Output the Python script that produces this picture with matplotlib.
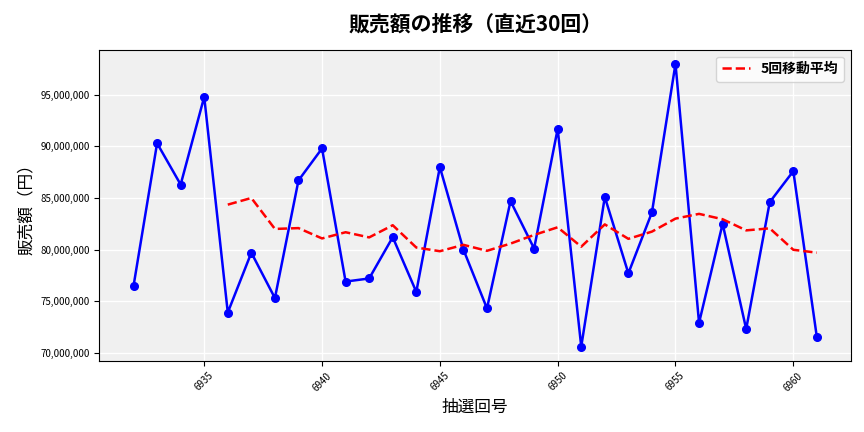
import matplotlib
matplotlib.use("Agg")
import matplotlib.pyplot as plt
import pandas as pd
from matplotlib.ticker import FuncFormatter

plt.rcParams['font.family'] = ['Noto Sans CJK JP', 'DejaVu Sans']

rounds = list(range(6932, 6962))
sales = [76.47, 90.3, 86.3, 94.8, 73.9, 79.7, 75.3, 86.7, 89.8, 76.9,
         77.2, 81.2, 75.9, 88.0, 80.0, 74.3, 84.7, 80.1, 91.7, 70.6,
         85.1, 77.7, 83.6, 98.0, 72.9, 82.5, 72.3, 84.6, 87.6, 71.5]
sales = [v * 1e6 for v in sales]
ma = pd.Series(sales).rolling(5).mean()

fig, ax = plt.subplots(figsize=(8.64, 4.32), dpi=100)
fig.subplots_adjust(left=0.115, right=0.985, top=0.885, bottom=0.165)
ax.set_facecolor('#f0f0f0')
ax.grid(True, color='white', linewidth=1)
ax.set_axisbelow(True)
ax.plot(rounds, sales, color='blue', marker='o', markersize=5.5, linewidth=1.8)
ax.plot(rounds, ma, color='red', linestyle='--', linewidth=1.8, label='5回移動平均')
ax.yaxis.set_major_formatter(FuncFormatter(lambda v, p: f'{int(v):,}'))
ax.tick_params(axis='y', labelsize=7)
ax.tick_params(axis='x', labelsize=7, rotation=45)
ax.set_xlabel('抽選回号', fontsize=12)
ax.set_ylabel('販売額（円）', fontsize=12)
ax.set_title('販売額の推移（直近30回）', fontsize=15, fontweight='bold', pad=14)
ax.legend(loc='upper right', prop={'size': 10, 'weight': 'bold'})
fig.savefig('out.png')
